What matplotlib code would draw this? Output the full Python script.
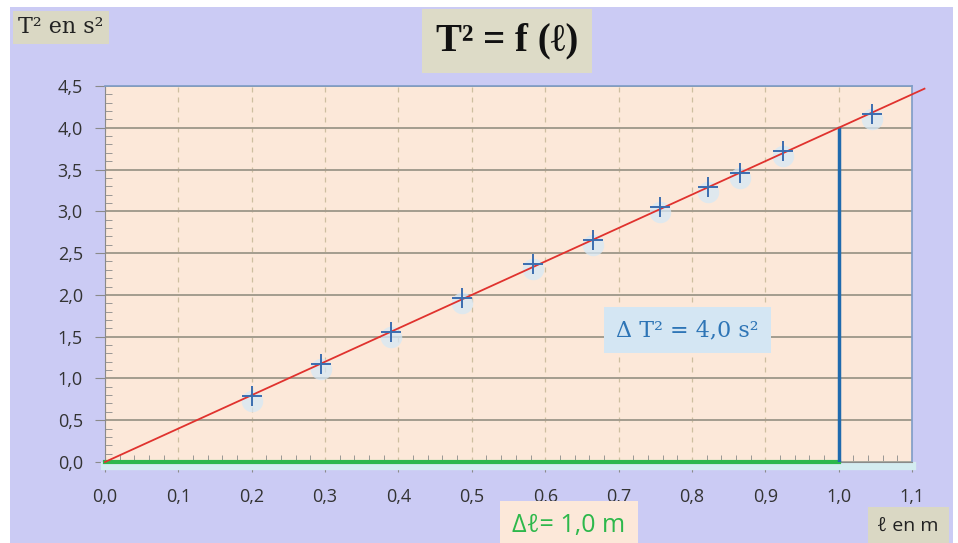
import matplotlib
matplotlib.use('Agg')
import matplotlib.pyplot as plt
from matplotlib.patches import Rectangle
from matplotlib.ticker import MultipleLocator, FuncFormatter
import matplotlib.transforms as mtransforms

# measured points (l in m, T^2 in s^2)
lengths = [0.20, 0.295, 0.39, 0.487, 0.583, 0.665, 0.756, 0.822, 0.865, 0.924, 1.045]
t_squared = [0.79, 1.17, 1.555, 1.96, 2.37, 2.66, 3.05, 3.29, 3.46, 3.72, 4.16]

# model line T^2 = 4.0 * l
fit_x = [0.0, 1.117]
slope = 4.0
fit_y = [slope * v for v in fit_x]

delta_l = 1.0
delta_t2 = 4.0

x_ticks = [i / 10 for i in range(12)]
y_ticks = [i / 2 for i in range(10)]


def comma(v, pos=None):
    return f"{v:.1f}".replace('.', ',')


fig = plt.figure(figsize=(9.58, 5.43), dpi=100)
fig.patch.set_facecolor('#CBCBF4')
ax = fig.add_axes([0.1096, 0.1492, 0.8424, 0.6924])
ax.set_facecolor('#FCE8D9')

ax.set_xlim(0, 1.1)
ax.set_ylim(0, 4.5)
ax.set_xticks(x_ticks)
ax.set_yticks(y_ticks)
ax.xaxis.set_major_formatter(FuncFormatter(comma))
ax.yaxis.set_major_formatter(FuncFormatter(comma))
ax.xaxis.set_minor_locator(MultipleLocator(0.02))
ax.yaxis.set_minor_locator(MultipleLocator(0.1))

ax.tick_params(axis='both', which='major', length=7, color='#8A8A8A',
               labelsize=13, labelcolor='#333333', direction='out')
ax.tick_params(axis='x', which='major', pad=12)
ax.tick_params(axis='y', which='major', pad=9)
ax.tick_params(axis='both', which='minor', length=5, color='#8A8A8A', direction='in')
for lab in ax.get_xticklabels() + ax.get_yticklabels():
    lab.set_family(['Open Sans', 'DejaVu Sans'])

ax.grid(True, axis='y', color='#A39C8E', linewidth=1.4)
ax.grid(True, axis='x', color='#CDBFA0', linewidth=0.9, linestyle=(0, (4, 4)))
ax.set_axisbelow(True)

for side in ('left', 'bottom'):
    ax.spines[side].set_color('#8A8A8A')
for side in ('top', 'right'):
    ax.spines[side].set_color('#7E9CC6')
    ax.spines[side].set_linewidth(1.2)

# light band under the x axis
ax.plot([0, 1.1], [-0.05, -0.05], color='#D4ECF0', linewidth=6, clip_on=False, zorder=2)

# delta lines
ax.plot([0, delta_l], [0, 0], color='#2DB84B', linewidth=3, clip_on=False, zorder=4)
ax.plot([delta_l, delta_l], [0, delta_t2], color='#1F6AAE', linewidth=2.5, zorder=4)

# fitted line
ax.plot(fit_x, fit_y, color='#E0322E', linewidth=1.3, clip_on=False, zorder=5)

# glow under the crosses
glow = mtransforms.offset_copy(ax.transData, fig=fig, x=0, y=-5, units='dots')
ax.scatter(lengths, t_squared, s=240, color='#D6E8F6', alpha=0.75, linewidths=0,
           transform=glow, zorder=3)
ax.plot(lengths, t_squared, linestyle='none', marker='+', markersize=14,
        markeredgewidth=1.4, color='#3B6DB0', zorder=6)

# white frame at the top, left and right
fig.patches.append(Rectangle((0, 0.987), 1, 0.013, transform=fig.transFigure,
                             facecolor='white', edgecolor='none'))
fig.patches.append(Rectangle((0, 0), 0.010, 1, transform=fig.transFigure,
                             facecolor='white', edgecolor='none'))
fig.patches.append(Rectangle((0.995, 0), 0.005, 1, transform=fig.transFigure,
                             facecolor='white', edgecolor='none'))

# text boxes
serif = ['Liberation Serif', 'DejaVu Serif']
wide_serif = ['DejaVu Serif']
sans = ['Open Sans', 'DejaVu Sans']
fig.text(0.019, 0.950, 'T² en s²', fontsize=16, family=wide_serif,
         color='#222222', va='center', ha='left',
         bbox=dict(boxstyle='square,pad=0.25', facecolor='#DAD8C4', edgecolor='none'))
fig.text(0.529, 0.924, 'T² = f (ℓ)', fontsize=28, fontweight='bold',
         family=serif, color='#111111', ha='center', va='center',
         bbox=dict(boxstyle='square,pad=0.35', facecolor='#DDDBC7', edgecolor='none'))
ax.text(0.722, 0.351, 'Δ T² = 4,0 s²', transform=ax.transAxes, fontsize=16,
        family=wide_serif, color='#2E75B6', ha='center', va='center', zorder=7,
        bbox=dict(boxstyle='square,pad=0.55', facecolor='#D4E6F3', edgecolor='none'))
fig.text(0.594, 0.032, 'Δℓ= 1,0 m', fontsize=18, family=sans,
         color='#2DB84B', ha='center', va='center',
         bbox=dict(boxstyle='square,pad=0.5', facecolor='#FCE8D9', edgecolor='none'))
fig.text(0.948, 0.032, 'ℓ en m', fontsize=14, family=sans,
         color='#222222', ha='center', va='center',
         bbox=dict(boxstyle='square,pad=0.5', facecolor='#DAD8C4', edgecolor='none'))

plt.savefig('out.png', dpi=100, facecolor=fig.get_facecolor())
plt.close()
